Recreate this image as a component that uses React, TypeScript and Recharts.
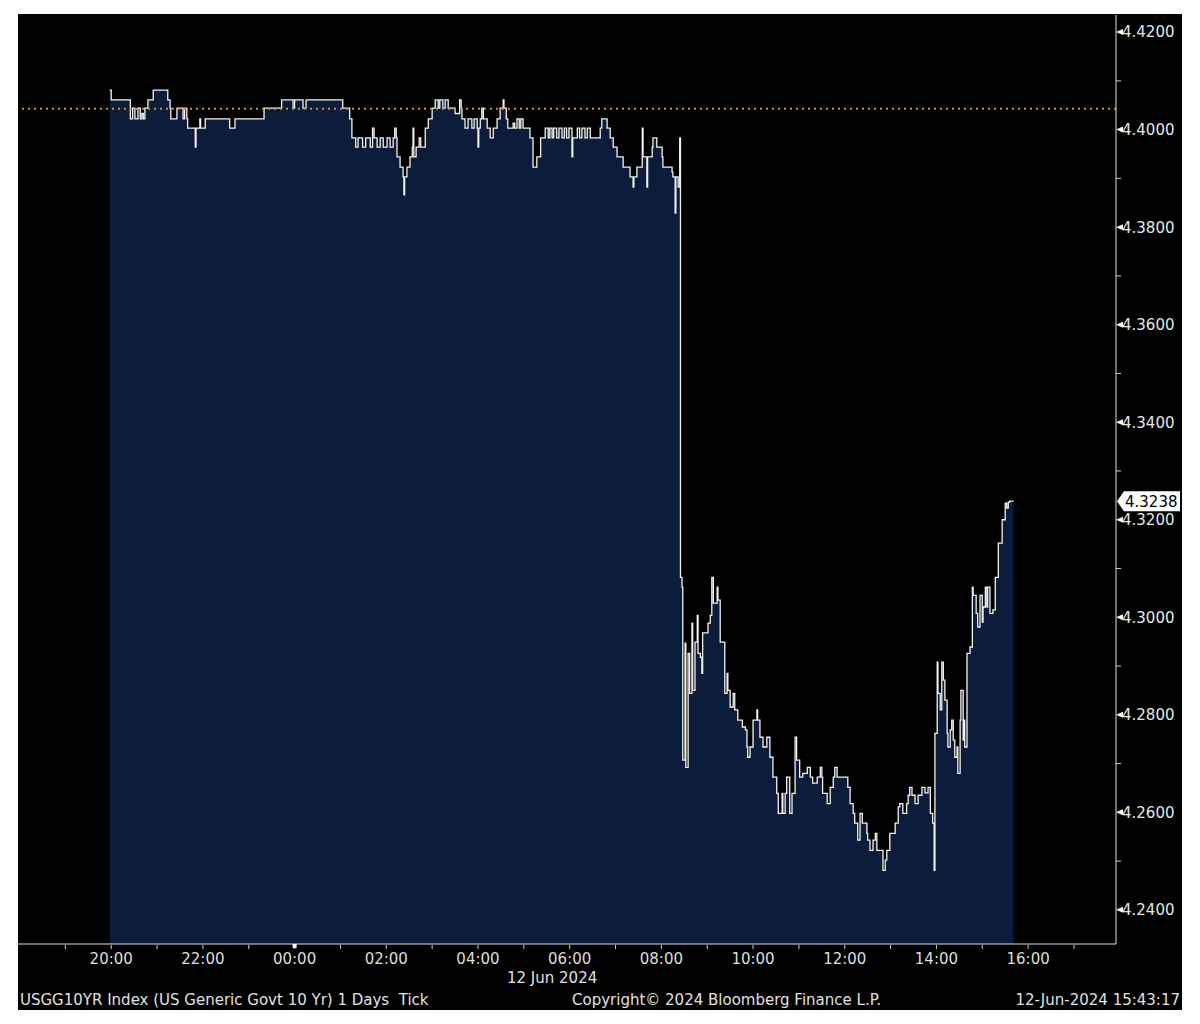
import { AreaChart, Area, XAxis, YAxis, ReferenceLine } from 'recharts';

// USGG10YR ticks, minutes after 18:00 ET on 11 Jun -> yield
const overnightTicks: [number, number][] = [
  [118, 4.4081], [120, 4.4061], [145, 4.4022], [148, 4.4044], [151, 4.4022], [155, 4.4044],
  [158, 4.4022], [160, 4.4033], [162, 4.4022], [164, 4.4044], [168, 4.4061], [175, 4.4081],
  [194, 4.4061], [197, 4.4044], [198, 4.4022], [206, 4.4044], [214, 4.4022], [216, 4.4044],
  [219, 4.4022], [220, 4.4003], [230, 4.3964], [231, 4.4003], [236, 4.4022], [237, 4.4003],
  [243, 4.4022], [275, 4.4003], [282, 4.4022], [320, 4.4044], [343, 4.4061], [358, 4.4044],
  [360, 4.4061], [371, 4.4044], [375, 4.4061], [423, 4.4044], [432, 4.4022], [435, 4.3983],
  [440, 4.3964], [443, 4.3983], [449, 4.3964], [453, 4.3983], [459, 4.3964], [462, 4.4003],
  [464, 4.3983], [468, 4.3964], [472, 4.3983], [476, 4.3964], [481, 4.3983], [485, 4.3964],
  [489, 4.3983], [491, 4.4003], [493, 4.3983], [494, 4.3944], [498, 4.3923], [502, 4.3903],
  [503, 4.3866], [504, 4.3903], [507, 4.3923], [511, 4.3944], [514, 4.3964], [515, 4.4003],
  [516, 4.3944], [519, 4.3964], [523, 4.3983], [525, 4.3964], [531, 4.4003], [535, 4.4022],
  [540, 4.4044], [544, 4.4061], [548, 4.4044], [550, 4.4061], [554, 4.4044], [557, 4.4061],
  [561, 4.4044], [570, 4.4033], [576, 4.4061], [578, 4.4044], [579, 4.4022], [583, 4.4003],
  [587, 4.4022], [592, 4.4003], [595, 4.4022], [599, 4.4003], [600, 4.3964], [601, 4.4003],
  [603, 4.4022], [605, 4.4044], [607, 4.4022], [612, 4.4003], [616, 4.3983], [620, 4.4003],
  [625, 4.4022], [629, 4.4044], [633, 4.4061], [634, 4.4044], [637, 4.4022], [639, 4.4003],
  [646, 4.4013], [648, 4.4003], [651, 4.4022], [654, 4.4003], [656, 4.4022], [659, 4.4003],
  [668, 4.3983], [672, 4.3923], [677, 4.3944], [682, 4.3983], [688, 4.4003], [692, 4.3983],
  [694, 4.4003], [697, 4.3983], [699, 4.4003], [703, 4.3983], [706, 4.4003], [710, 4.3983],
  [713, 4.4003], [716, 4.3983], [719, 4.4003], [723, 4.3944], [724, 4.3983], [730, 4.4003],
  [733, 4.3983], [736, 4.4003], [740, 4.3983], [743, 4.4003], [747, 4.3983], [760, 4.4003],
  [762, 4.4022], [769, 4.4003], [773, 4.3983], [777, 4.3964], [782, 4.3944], [790, 4.3923],
  [799, 4.3903], [803, 4.3882], [804, 4.3903], [808, 4.3923], [815, 4.4003], [816, 4.3944],
  [821, 4.3882], [822, 4.3944], [828, 4.3964], [829, 4.3983], [834, 4.3964], [841, 4.3944],
  [842, 4.3923], [854, 4.3913], [855, 4.3903], [858, 4.3829], [859, 4.3903], [862, 4.3882],
  [864, 4.3983],
];

// after the 08:30 CPI print
const postCpiTicks: [number, number][] = [
  [865, 4.3082], [867, 4.3062], [868, 4.2707], [871, 4.2947], [872, 4.2692], [875, 4.2926],
  [877, 4.2844], [880, 4.2988], [881, 4.2850], [884, 4.2949], [887, 4.3004], [888, 4.2926],
  [891, 4.2918], [893, 4.2885], [894, 4.2968], [901, 4.2988], [904, 4.3004], [906, 4.3082],
  [908, 4.3029], [913, 4.3062], [914, 4.3035], [917, 4.2949], [923, 4.2844], [926, 4.2885],
  [927, 4.2850], [930, 4.2816], [934, 4.2844], [936, 4.2810], [940, 4.2789], [946, 4.2775],
  [950, 4.2769], [952, 4.2734], [953, 4.2713], [956, 4.2734], [960, 4.2789], [965, 4.2810],
  [966, 4.2789], [969, 4.2754], [973, 4.2734], [978, 4.2754], [982, 4.2713], [986, 4.2672],
  [991, 4.2639], [993, 4.2598], [998, 4.2639], [999, 4.2598], [1002, 4.2639], [1004, 4.2672],
  [1008, 4.2598], [1011, 4.2639], [1015, 4.2754], [1017, 4.2707], [1021, 4.2672], [1025, 4.2680],
  [1031, 4.2692], [1035, 4.2672], [1038, 4.2660], [1044, 4.2672], [1048, 4.2692], [1050, 4.2672],
  [1051, 4.2639], [1057, 4.2618], [1061, 4.2651], [1065, 4.2672], [1067, 4.2692], [1070, 4.2672],
  [1084, 4.2651], [1087, 4.2618], [1091, 4.2598], [1093, 4.2578], [1097, 4.2543], [1100, 4.2598],
  [1103, 4.2578], [1109, 4.2557], [1110, 4.2543], [1113, 4.2522], [1117, 4.2543], [1120, 4.2557],
  [1122, 4.2522], [1130, 4.2481], [1133, 4.2502], [1135, 4.2522], [1139, 4.2557], [1146, 4.2578],
  [1150, 4.2611], [1152, 4.2618], [1156, 4.2598], [1161, 4.2618], [1163, 4.2635], [1165, 4.2651],
  [1168, 4.2635], [1172, 4.2618], [1176, 4.2635], [1181, 4.2651], [1185, 4.2640], [1189, 4.2651],
  [1192, 4.2598], [1195, 4.2578], [1197, 4.2481], [1198, 4.2762], [1201, 4.2908], [1202, 4.2844],
  [1205, 4.2810], [1207, 4.2908], [1209, 4.2871], [1211, 4.2830], [1214, 4.2762], [1215, 4.2734],
  [1218, 4.2769], [1220, 4.2789], [1222, 4.2748], [1224, 4.2713], [1227, 4.2734], [1228, 4.2680],
  [1231, 4.2789], [1232, 4.2850], [1235, 4.2748], [1236, 4.2789], [1237, 4.2734], [1240, 4.2926],
  [1244, 4.2939], [1247, 4.3062], [1248, 4.3045], [1252, 4.3008], [1254, 4.2980], [1257, 4.3045],
  [1260, 4.2990], [1261, 4.3021], [1264, 4.3062], [1266, 4.3021], [1267, 4.3062], [1270, 4.3008],
  [1274, 4.3015], [1277, 4.3082], [1281, 4.3152], [1286, 4.3200], [1290, 4.3234], [1292, 4.3224],
  [1294, 4.3236], [1296, 4.3238], [1301, 4.3238],
];

const hourTicks = [60, 120, 180, 240, 300, 360, 420, 480, 540, 600, 660, 720, 780, 840, 900, 960,
  1020, 1080, 1140, 1200, 1260, 1320, 1380];
const yieldTicks = [4.24, 4.25, 4.26, 4.27, 4.28, 4.29, 4.3, 4.31, 4.32, 4.33, 4.34, 4.35, 4.36,
  4.37, 4.38, 4.39, 4.4, 4.41, 4.42];
const prevClose = 4.4043;
const lastYield = 4.3238;
const dateLabel = '12 Jun 2024';
const footerLeft = 'USGG10YR Index (US Generic Govt 10 Yr) 1 Days  Tick';
const footerMid = 'Copyright\u00a9 2024 Bloomberg Finance L.P.';
const footerRight = '12-Jun-2024 15:43:17';

const data = [...overnightTicks, ...postCpiTicks].map(([t, y]) => ({ t, y }));

const FONT = '"DejaVu Sans", sans-serif';

const hourLabel = (m: number) => {
  const h = (18 + m / 60) % 24;
  return `${String(h).padStart(2, '0')}:00`;
};

const HourTick = ({ x, y, payload }: any) => {
  const m = payload.value;
  const h = (18 + m / 60) % 24;
  return (
    <g>
      <line x1={x} x2={x} y1={y + 1} y2={y + 5} stroke="#cfcfcf" />
      {m === 360 && <rect x={x - 2} y={y} width={4} height={4} fill="#fff" />}
      {h % 2 === 0 && (
        <text x={x} y={y + 20} textAnchor="middle" fill="#dedede" fontSize={15} fontFamily={FONT}>
          {hourLabel(m)}
        </text>
      )}
    </g>
  );
};

const YieldTick = ({ x, y, payload }: any) => {
  const v = payload.value;
  if (Math.round(v * 100) % 2 !== 0) {
    return <line x1={x} x2={x + 5} y1={y} y2={y} stroke="#cfcfcf" />;
  }
  return (
    <g>
      <path d={`M${x} ${y} L${x + 7} ${y - 3} V${y + 3} Z`} fill="#fff" />
      <text x={x + 6} y={y} dy="0.36em" fill="#e6e6e6" fontSize={15} fontFamily={FONT}>
        {v.toFixed(4)}
      </text>
    </g>
  );
};

const LastTag = ({ viewBox }: any) => {
  const left = viewBox.x + viewBox.width;
  const y = viewBox.y;
  return (
    <g>
      <path d={`M${left + 1} ${y} L${left + 8} ${y - 10} H${left + 64} V${y + 10} H${left + 8} Z`} fill="#fff" />
      <text x={left + 9} y={y} dy="0.36em" fill="#000" fontSize={15} fontFamily={FONT}>
        {lastYield.toFixed(4)}
      </text>
    </g>
  );
};

const footText = { position: 'absolute' as const, fontSize: 15, lineHeight: '16px', color: '#e0e0e0', whiteSpace: 'pre' as const };

export default function App() {
  return (
    <div style={{ position: 'relative', width: 1164, height: 996, marginLeft: 10, marginTop: 6, background: '#000', fontFamily: FONT }}>
      <AreaChart width={1164} height={996} data={data} margin={{ top: 1, right: 0, bottom: 16, left: 0 }}>
        <XAxis
          dataKey="t"
          type="number"
          domain={[-2, 1435]}
          allowDataOverflow
          ticks={hourTicks}
          interval={0}
          height={50}
          tickSize={0}
          tickMargin={0}
          tickLine={false}
          axisLine={{ stroke: '#e0e0e0' }}
          tick={(p: any) => <HourTick {...p} />}
        />
        <YAxis
          orientation="right"
          type="number"
          domain={[4.233, 4.4235]}
          allowDataOverflow
          ticks={yieldTicks}
          interval={0}
          width={66}
          tickSize={0}
          tickMargin={0}
          tickLine={false}
          axisLine={{ stroke: '#e0e0e0' }}
          tick={(p: any) => <YieldTick {...p} />}
        />
        <Area
          dataKey="y"
          type="stepAfter"
          stroke="#f2f2f2"
          strokeWidth={1.3}
          fill="#0c1d3b"
          fillOpacity={1}
          dot={false}
          activeDot={false}
          isAnimationActive={false}
        />
        <ReferenceLine y={prevClose} stroke="#d08c36" strokeWidth={2} strokeDasharray="2 4" />
        <ReferenceLine y={lastYield} stroke="none" label={<LastTag />} />
      </AreaChart>
      <div style={{ ...footText, left: 489, top: 956 }}>{dateLabel}</div>
      <div style={{ ...footText, left: 2, top: 978 }}>{footerLeft}</div>
      <div style={{ ...footText, left: 554, top: 978 }}>{footerMid}</div>
      <div style={{ ...footText, right: 2, top: 978 }}>{footerRight}</div>
    </div>
  );
}
